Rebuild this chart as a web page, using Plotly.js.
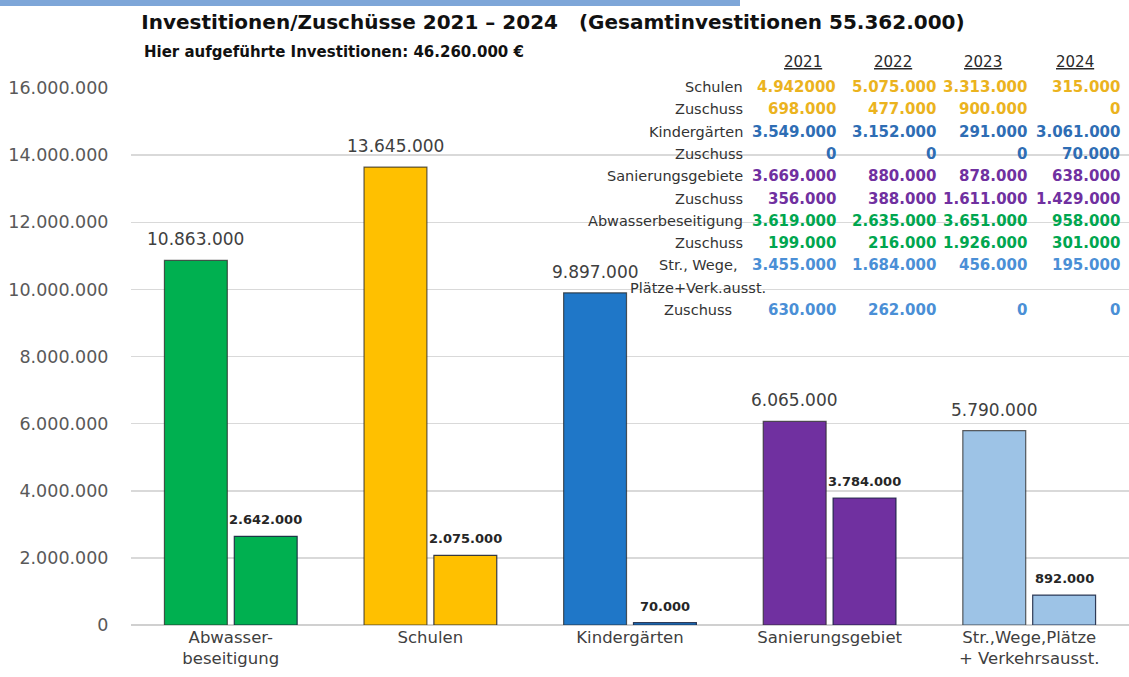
<!DOCTYPE html>
<html>
<head>
<meta charset="utf-8">
<script src="https://cdn.plot.ly/plotly-3.0.1.min.js"></script>
<style>html,body{margin:0;padding:0;background:#fff;}#chart{width:1129px;height:677px;}</style>
</head>
<body>
<div id="chart"></div>
<script>
// ---- Data ----
const categories = ['Abwasser-<br>beseitigung', 'Schulen', 'Kindergärten', 'Sanierungsgebiet', 'Str.,Wege,Plätze<br>+ Verkehrsausst.'];
const investitionen = [10863000, 13645000, 9897000, 6065000, 5790000];
const zuschuss = [2642000, 2075000, 70000, 3784000, 892000];

const tableYears = ['2021', '2022', '2023', '2024'];
const tableRowLabels = ['Schulen', 'Zuschuss', 'Kindergärten', 'Zuschuss', 'Sanierungsgebiete', 'Zuschuss', 'Abwasserbeseitigung', 'Zuschuss', 'Str., Wege,<br>Plätze+Verk.ausst.', 'Zuschuss'];
const schulenValues = ['4.942000', '5.075.000', '3.313.000', '315.000'];
const schulenZuschuss = ['698.000', '477.000', '900.000', '0'];
const kitaValues = ['3.549.000', '3.152.000', '291.000', '3.061.000'];
const kitaZuschuss = ['0', '0', '0', '70.000'];
const sanierungValues = ['3.669.000', '880.000', '878.000', '638.000'];
const sanierungZuschuss = ['356.000', '388.000', '1.611.000', '1.429.000'];
const abwasserValues = ['3.619.000', '2.635.000', '3.651.000', '958.000'];
const abwasserZuschuss = ['199.000', '216.000', '1.926.000', '301.000'];
const strassenValues = ['3.455.000', '1.684.000', '456.000', '195.000'];
const strassenZuschuss = ['630.000', '262.000', '0', '0'];

const titleText = 'Investitionen/Zuschüsse 2021 – 2024   (Gesamtinvestitionen 55.362.000)';
const subtitleText = 'Hier aufgeführte Investitionen: 46.260.000 €';

// ---- Styles ----
const barColors = ['#00B050', '#FFC000', '#1F77C8', '#7030A0', '#9DC3E6'];
const tableColors = ['#EBB31E', '#EBB31E', '#2E6DB4', '#2E6DB4', '#7030A0', '#7030A0', '#00A64F', '#00A64F', '#4A8FD6', '#4A8FD6'];
const FONT = 'DejaVu Sans, Verdana, sans-serif';

const W = 1129, H = 677;
const M = {l: 131, r: 0, t: 88, b: 52};
const PW = W - M.l - M.r, PH = H - M.t - M.b;
const px = x => (x - M.l) / PW;
const py = y => (H - M.b - y) / PH;

const tableRows = [schulenValues, schulenZuschuss, kitaValues, kitaZuschuss, sanierungValues, sanierungZuschuss, abwasserValues, abwasserZuschuss, strassenValues, strassenZuschuss];

const traces = [
  {type: 'bar', name: 'Investitionen', x: categories, y: investitionen,
   marker: {color: barColors, line: {color: 'rgba(40,40,40,0.75)', width: 1.2}},
   hoverinfo: 'x+y'},
  {type: 'bar', name: 'Zuschuss', x: categories, y: zuschuss,
   marker: {color: barColors, line: {color: 'rgba(20,30,60,0.85)', width: 1.2}},
   hoverinfo: 'x+y'}
];

const annotations = [];
const fmt = v => v.toLocaleString('de-DE');
// bar value labels
categories.forEach((c, i) => {
  annotations.push({x: c, y: investitionen[i], xref: 'x', yref: 'y', text: fmt(investitionen[i]),
    showarrow: false, xshift: -35, yshift: 9, yanchor: 'bottom',
    font: {family: FONT, size: 17, color: '#404040'}});
  annotations.push({x: c, y: zuschuss[i], xref: 'x', yref: 'y', text: '<b>' + fmt(zuschuss[i]) + '</b>',
    showarrow: false, xshift: 35, yshift: 7, yanchor: 'bottom',
    font: {family: FONT, size: 13, color: '#262626'}});
});

// subtitle
annotations.push({xref: 'paper', yref: 'paper', x: px(142), y: py(52), xanchor: 'left', yanchor: 'middle',
  text: '<b>' + subtitleText + '</b>', showarrow: false, font: {family: FONT, size: 15, color: '#111'}});

// table header
const colRight = [838, 938, 1029, 1122];
const colCenter = [803, 893, 983, 1075];
tableYears.forEach((yr, j) => {
  annotations.push({xref: 'paper', yref: 'paper', x: px(colCenter[j]), y: py(62), xanchor: 'center', yanchor: 'middle',
    text: '<span style="text-decoration:underline">' + yr + '</span>', showarrow: false,
    font: {family: FONT, size: 15, color: '#2a2a2a'}});
});
// table rows
let slot = 0;
tableRows.forEach((vals, r) => {
  const label = tableRowLabels[r];
  const lines = label.split('<br>');
  const y0 = 87 + slot * 22.3;
  const isStr = r >= 8;
  lines.forEach((ln, k) => {
    annotations.push({xref: 'paper', yref: 'paper', x: isStr ? px(698) : px(745), y: py(y0 + k * 22.3),
      xanchor: isStr ? 'center' : 'right', yanchor: 'middle', text: ln, showarrow: false,
      font: {family: FONT, size: 14.5, color: '#333'}});
  });
  vals.forEach((v, j) => {
    annotations.push({xref: 'paper', yref: 'paper', x: px(colRight[j]), y: py(y0), xanchor: 'right', yanchor: 'middle',
      text: '<b>' + v + '</b>', showarrow: false, font: {family: FONT, size: 15, color: tableColors[r]}});
  });
  slot += lines.length;
});

const layout = {
  width: W, height: H,
  margin: M,
  paper_bgcolor: '#fff', plot_bgcolor: '#fff',
  separators: ',.',
  showlegend: false,
  barmode: 'group', bargap: 0.3, bargroupgap: 0.1,
  title: {text: '<b>' + titleText + '</b>', x: 553 / W, xanchor: 'center', y: 1 - 22 / H, yanchor: 'middle',
    xref: 'container', yref: 'container', font: {family: FONT, size: 20, color: '#111'}},
  xaxis: {type: 'category', showgrid: false, showline: false, zeroline: false, ticks: '',
    tickfont: {family: FONT, size: 16.5, color: '#404040'}, fixedrange: true},
  yaxis: {range: [0, 16000000], dtick: 2000000, tickformat: ',d', showgrid: true, gridcolor: '#D9D9D9', gridwidth: 1.5,
    zeroline: true, zerolinecolor: '#D0D0D0', zerolinewidth: 1.5, showline: false,
    ticks: 'outside', ticklen: 18, tickcolor: 'rgba(0,0,0,0)',
    tickfont: {family: FONT, size: 17.5, color: '#595959'}, fixedrange: true},
  shapes: [
    {type: 'rect', xref: 'paper', yref: 'paper', x0: px(0), x1: px(740), y0: py(0), y1: py(6),
      fillcolor: '#7EA6D8', line: {width: 0}, layer: 'above'}
  ],
  annotations: annotations
};

Plotly.newPlot('chart', traces, layout, {displayModeBar: false, staticPlot: true});
</script>
</body>
</html>
